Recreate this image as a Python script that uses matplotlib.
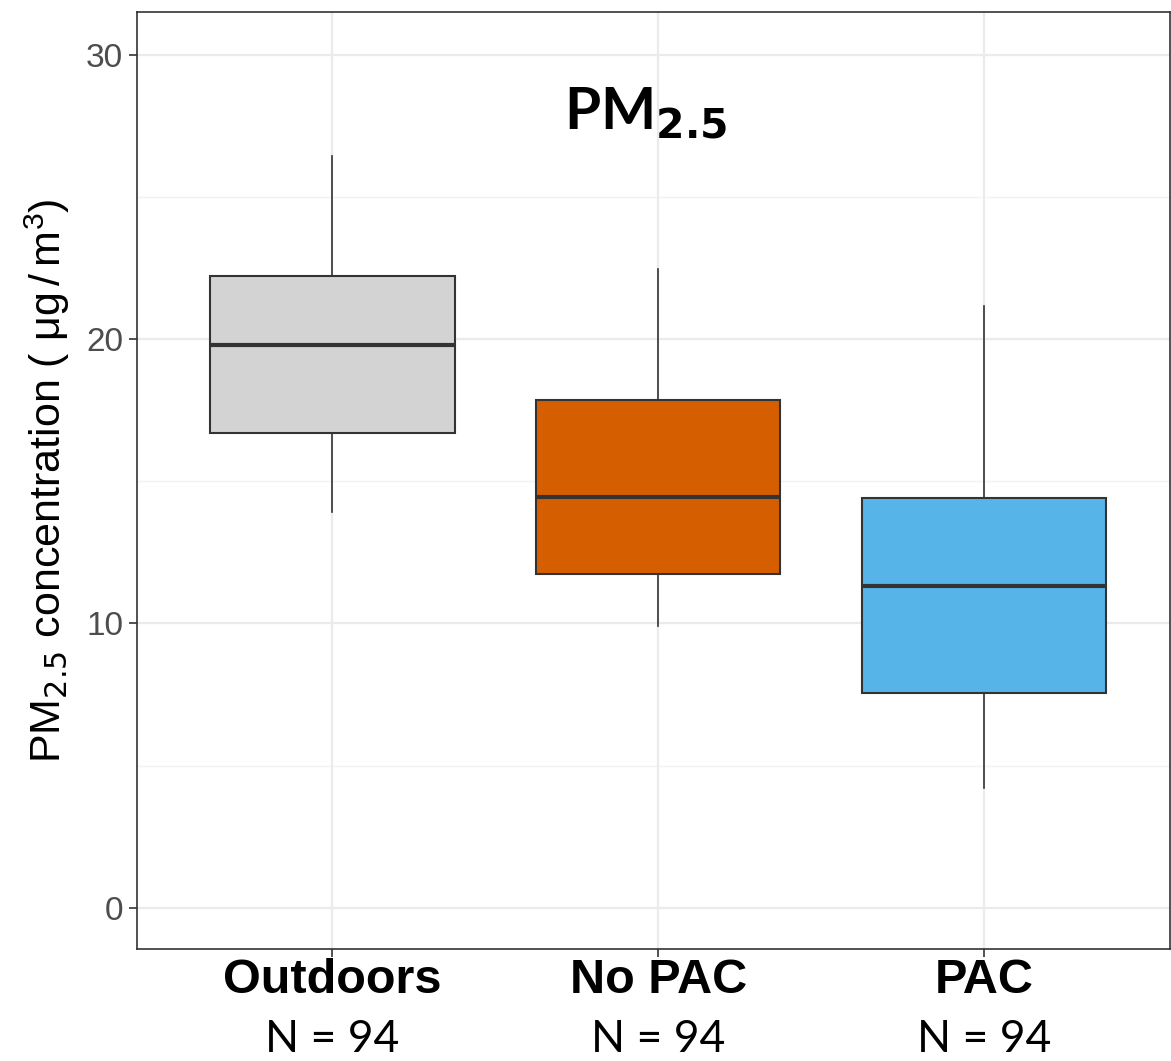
import matplotlib.pyplot as plt

# group names and box statistics (ug/m3)
groups = ["Outdoors", "No PAC", "PAC"]
n_labels = ["N = 94", "N = 94", "N = 94"]
whislo = [13.9, 9.9, 4.2]
q1 = [16.7, 11.75, 7.55]
med = [19.8, 14.45, 11.3]
q3 = [22.2, 17.85, 14.4]
whishi = [26.45, 22.45, 21.15]
colors = ["#D3D3D3", "#D55E00", "#56B4E9"]

stats = []
for i in range(len(groups)):
    stats.append({"whislo": whislo[i], "q1": q1[i], "med": med[i],
                  "q3": q3[i], "whishi": whishi[i], "fliers": []})

fig = plt.figure(figsize=(11.71, 10.61), dpi=100)
ax = fig.add_axes([0.117, 0.1056, 0.882, 0.8831])

# grid like theme_bw
for y in [5, 15, 25]:
    ax.axhline(y, color="#F2F2F2", lw=1.0, zorder=0)
for y in [0, 10, 20, 30]:
    ax.axhline(y, color="#EBEBEB", lw=1.6, zorder=0)
for x in [1, 2, 3]:
    ax.axvline(x, color="#EBEBEB", lw=1.6, zorder=0)

bp = ax.bxp(stats, positions=[1, 2, 3], widths=0.75, patch_artist=True,
            showcaps=False, showfliers=False,
            boxprops=dict(edgecolor="#333333", linewidth=1.5),
            medianprops=dict(color="#333333", linewidth=3),
            whiskerprops=dict(color="#333333", linewidth=1.2))
for patch, c in zip(bp["boxes"], colors):
    patch.set_facecolor(c)
    patch.set_zorder(2)

ax.set_xlim(0.4, 3.57)
ax.set_ylim(-1.45, 31.5)
ax.set_yticks([0, 10, 20, 30])
ax.set_xticks([1, 2, 3])
ax.set_xticklabels([])
ax.tick_params(axis="y", labelsize=24, labelcolor="#4D4D4D", color="#333333",
               length=6, width=1.2, pad=4)
ax.tick_params(axis="x", color="#333333", length=6, width=1.2)
for tl in ax.get_yticklabels():
    tl.set_family("Liberation Sans")

for s in ax.spines.values():
    s.set_color("#333333")
    s.set_linewidth(1.2)

# category labels with sample sizes
for i, (g, n) in enumerate(zip(groups, n_labels)):
    ax.text(i + 1, -0.034, g, transform=ax.get_xaxis_transform(), ha="center",
            va="center", fontsize=35, fontweight="bold", family="Liberation Sans")
    ax.text(i + 1, -0.097, n, transform=ax.get_xaxis_transform(),
            ha="center", va="center", fontsize=32, family="Lato")

ax.set_ylabel(r"PM$_{2.5}$ concentration ( $\mathregular{\mu g\,/\,m^3}$)",
              fontsize=31, family="Liberation Sans", labelpad=10)
ax.text(1.96, 27.95, r"PM$_{\mathbf{2.5}}$", ha="center", va="center",
        fontsize=42, fontweight="bold", family="Lato")

fig.savefig("out.png", dpi=100)
